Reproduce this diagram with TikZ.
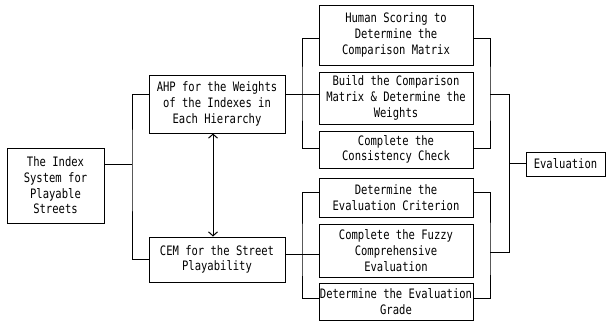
\documentclass[tikz,border=0pt]{standalone}
\usepackage{fontspec}
\newfontfamily\monof{DejaVu Sans Mono}[FakeStretch=0.81]
\usetikzlibrary{arrows.meta}
\begin{document}
\begin{tikzpicture}[x=1pt,y=-1pt,
  box/.style={draw,line width=1pt,inner sep=0pt,align=center,
    font=\monof\fontsize{13}{15.7}\selectfont},
  conn/.style={line width=1pt},
  bi/.style={line width=1pt,{Straight Barb[length=4pt,width=9pt]}-{Straight Barb[length=4pt,width=9pt]}}]
\useasboundingbox (0,0) rectangle (606,324);
% nodes
\node[box,minimum width=97pt,minimum height=75pt] (idx) at (55.5,185.5) {The Index\\System for\\Playable\\Streets};
\node[box,minimum width=136pt,minimum height=58pt] (ahp) at (217,104) {AHP for the Weights\\of the Indexes in\\Each Hierarchy};
\node[box,minimum width=136pt,minimum height=45pt] (cem) at (217,259.5) {CEM for the Street\\Playability};
\node[box,minimum width=154pt,minimum height=60pt] (b1) at (396,35) {Human Scoring to\\Determine the\\Comparison Matrix};
\node[box,minimum width=154pt,minimum height=52pt] (b2) at (396,98) {Build the Comparison\\Matrix \& Determine the\\Weights};
\node[box,minimum width=154pt,minimum height=37pt] (b3) at (396,149.5) {Complete the\\Consistency Check};
\node[box,minimum width=154pt,minimum height=39pt] (b4) at (396,197.5) {Determine the\\Evaluation Criterion};
\node[box,minimum width=154pt,minimum height=53pt] (b5) at (396,250.5) {Complete the Fuzzy\\Comprehensive\\Evaluation};
\node[box,minimum width=154pt,minimum height=37pt] (b6) at (396,301.5) {Determine the Evaluation\\Grade};
\node[box,minimum width=79pt,minimum height=24pt] (ev) at (565.5,164) {Evaluation};
% junctions
\coordinate (jL) at (132,164);
\coordinate (jT) at (302,94);
\coordinate (jB) at (302,254);
\coordinate (rT) at (490,94);
\coordinate (rB) at (490,252);
\coordinate (eT) at (509,94);
\coordinate (eB) at (509,252);
\coordinate (eM) at (509,163);
% connectors
\draw[conn] ([yshift=21.5pt]idx.east) -- (jL);
\draw[conn] ([yshift=10pt]ahp.west) -| (jL) |- (cem.west);
\draw[conn] ([yshift=10pt]ahp.east) -- ([yshift=4pt]b2.west);
\draw[conn] ([yshift=-3pt]b1.west) -| (jT) |- ([yshift=1.5pt]b3.west);
\draw[conn] ([yshift=5.5pt]cem.east) -- ([yshift=-3.5pt]b5.west);
\draw[conn] ([yshift=5.5pt]b4.west) -| (jB) |- ([yshift=3.5pt]b6.west);
\draw[conn] ([yshift=-3pt]b1.east) -| (rT) |- ([yshift=1.5pt]b3.east);
\draw[conn] ([yshift=5.5pt]b4.east) -| (rB) |- ([yshift=3.5pt]b6.east);
\draw[conn] (rT) -- (eT) -- (eB) -- (rB);
\draw[conn] (eM) -- ([yshift=1pt]ev.west);
\draw[bi] ([xshift=-4pt]ahp.south) -- ([xshift=-4pt]cem.north);
\end{tikzpicture}
\end{document}
